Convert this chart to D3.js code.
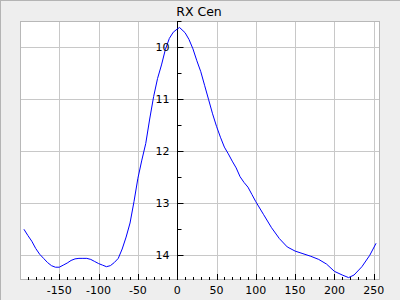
<!DOCTYPE html>
<html><head><meta charset="utf-8">
<script src="https://cdn.jsdelivr.net/npm/d3@7"></script>
<style>html,body{margin:0;padding:0;background:#eeeeee;}svg{display:block;}</style>
</head><body>
<svg id="c" width="400" height="300"></svg>
<script>
const title = "RX Cen";
const phase = [-195,-190,-185,-180,-175,-170,-165,-160,-155,-150,-145,-140,-135,-130,-125,-120,-115,-110,-105,-100,-95,-90,-85,-80,-75,-70,-65,-60,-55,-50,-45,-40,-35,-30,-25,-20,-15,-10,-5,0,3,10,15,20,25,30,35,40,45,50,55,60,65,70,75,80,85,90,95,100,110,120,130,140,150,160,170,180,190,200,210,218,225,235,245,253];
const mag = [13.50,13.62,13.73,13.87,13.98,14.06,14.14,14.20,14.23,14.23,14.19,14.15,14.10,14.07,14.06,14.06,14.06,14.08,14.12,14.16,14.19,14.22,14.20,14.14,14.06,13.88,13.65,13.38,12.97,12.52,12.17,11.85,11.38,10.95,10.60,10.34,10.04,9.83,9.71,9.65,9.62,9.72,9.85,10.03,10.26,10.47,10.74,11.01,11.28,11.52,11.73,11.92,12.05,12.19,12.32,12.49,12.60,12.69,12.83,12.97,13.22,13.47,13.68,13.84,13.92,13.97,14.02,14.08,14.17,14.31,14.38,14.43,14.38,14.22,14.00,13.77];
const xTicks = [-150,-100,-50,0,50,100,150,200,250];
const yTicks = [10,11,12,13,14];

const svg = d3.select("#c");
const L=20, R=380, T=21, B=280;
const x = d3.scaleLinear().domain([-200,258]).range([L,R]);
const y = d3.scaleLinear().domain([9.495,14.476]).range([T,B]);

// outer border (top/left)
svg.append("line").attr("x1",0.5).attr("x2",0.5).attr("y1",0).attr("y2",300).attr("stroke","#b4b4b4");
svg.append("line").attr("x1",0).attr("x2",400).attr("y1",0.5).attr("y2",0.5).attr("stroke","#b4b4b4");

svg.append("rect").attr("x",L).attr("y",T).attr("width",R-L).attr("height",B-T).attr("fill","#fff");

// grid
const g = svg.append("g").attr("stroke","#c8c8c8").attr("stroke-width",1);
xTicks.forEach(t=>{const px=Math.round(x(t))+0.5; g.append("line").attr("x1",px).attr("x2",px).attr("y1",T).attr("y2",B);});
yTicks.forEach(t=>{const py=Math.round(y(t))+0.5; g.append("line").attr("x1",L).attr("x2",R).attr("y1",py).attr("y2",py);});

svg.append("rect").attr("x",L+0.5).attr("y",T+0.5).attr("width",R-L-1).attr("height",B-T-1).attr("fill","none").attr("stroke","#b8b8b8");

// x minor/major ticks at bottom
const xt = svg.append("g").attr("stroke","#000");
d3.range(-190,251,10).forEach(t=>{
  const px=Math.round(x(t))+0.5; const len = (t%50===0)?6:3;
  xt.append("line").attr("x1",px).attr("x2",px).attr("y1",B-len).attr("y2",B);
});

// y axis at x=0
const x0 = Math.round(x(0))+0.5;
svg.append("line").attr("x1",x0).attr("x2",x0).attr("y1",T).attr("y2",B).attr("stroke","#000");
d3.range(9.5,14.51,0.5).forEach(t=>{
  if(t<9.495||t>14.476) return;
  const py=Math.round(y(t))+0.5; const len = (Math.abs(t-Math.round(t))<1e-6)?6:4;
  svg.append("line").attr("x1",x0).attr("x2",x0+len).attr("y1",py).attr("y2",py).attr("stroke","#000");
});

// line
const line = d3.line().x((d,i)=>x(phase[i])).y(d=>y(d));
svg.append("path").datum(mag).attr("d",line).attr("fill","none").attr("stroke","#0000ff").attr("stroke-width",1);

// labels
const font = "DejaVu Sans";
svg.selectAll(".xl").data(xTicks).join("text").attr("x",d=>x(d)).attr("y",294)
  .attr("text-anchor","middle").attr("font-family",font).attr("font-size",11).attr("fill","#000").text(d=>d);
svg.selectAll(".yl").data(yTicks).join("text").attr("x",x0-8).attr("y",d=>y(d)+4)
  .attr("text-anchor","end").attr("font-family",font).attr("font-size",11).attr("fill","#000").text(d=>d);
svg.append("text").attr("x",199).attr("y",15.5).attr("text-anchor","middle").attr("font-family",font)
  .attr("font-size",12.5).attr("fill","#000").text(title);
</script>
</body></html>
